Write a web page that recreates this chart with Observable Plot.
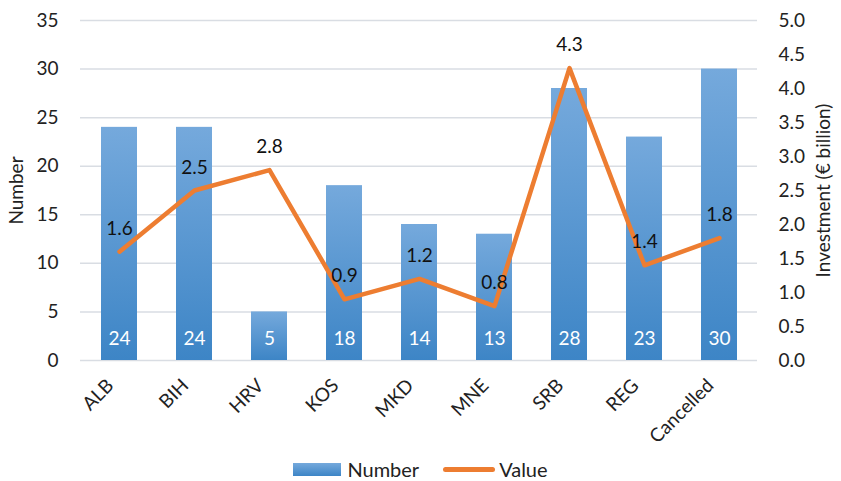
<!DOCTYPE html>
<html>
<head>
<meta charset="utf-8">
<script src="https://cdn.jsdelivr.net/npm/d3@7"></script>
<script src="https://cdn.jsdelivr.net/npm/@observablehq/plot@0.6"></script>
<style>
  body { margin: 0; background: #fff; font-family: Lato, "Noto Sans", sans-serif; }
  #wrap { position: relative; width: 841px; height: 481px; overflow: hidden; }
  #legend { position: absolute; left: 0; top: 457px; width: 841px; height: 24px; line-height: 24px; display: flex; justify-content: center; align-items: center; font-size: 20px; color: #222; }
  .sw-bar { width: 48px; height: 13px; background: linear-gradient(#75a9dc, #3d85c6); margin-right: 6px; }
  .sw-line { width: 52px; height: 5px; border-radius: 3px; background: #ed7d31; margin-left: 24px; margin-right: 4px; }
</style>
</head>
<body>
<div id="wrap">
  <div id="chart"></div>
  <div id="legend">
    <div class="sw-bar"></div><span>Number</span>
    <div class="sw-line"></div><span>Value</span>
  </div>
</div>
<script>
const categories = ["ALB", "BIH", "HRV", "KOS", "MKD", "MNE", "SRB", "REG", "Cancelled"];
const numbers = [24, 24, 5, 18, 14, 13, 28, 23, 30];
const values = [1.6, 2.5, 2.8, 0.9, 1.2, 0.8, 4.3, 1.4, 1.8];
const leftTicks = [0, 5, 10, 15, 20, 25, 30, 35];
const rightTicks = [0.0, 0.5, 1.0, 1.5, 2.0, 2.5, 3.0, 3.5, 4.0, 4.5, 5.0];

const ratio = 35 / 5; // right axis -> left axis units
const data = categories.map((c, i) => ({cat: c, n: numbers[i], v: values[i], vs: values[i] * ratio}));

const plot = Plot.plot({
  width: 841,
  height: 452,
  marginLeft: 80,
  marginRight: 84,
  marginTop: 20,
  marginBottom: 92,
  style: {fontFamily: "Lato, 'Noto Sans', sans-serif", fontSize: "18px", color: "#222", background: "#fff"},
  x: {domain: categories, paddingInner: 0.52, paddingOuter: 0.26},
  y: {domain: [0, 35]},
  marks: [
    Plot.gridY(leftTicks, {stroke: "#d9dde3", strokeOpacity: 1, strokeWidth: 1.5}),
    Plot.barY(data, {x: "cat", y: "n", fill: "url(#barGrad)"}),
    Plot.text(data, {x: "cat", y: 0, text: d => String(d.n), dy: -22, fill: "#fff", fontSize: 19}),
    Plot.line(data, {x: "cat", y: "vs", stroke: "#ed7d31", strokeWidth: 4.5, strokeLinejoin: "round", strokeLinecap: "round"}),
    Plot.text(data, {x: "cat", y: "vs", text: d => d.v.toFixed(1), dy: -23, fill: "#111", fontSize: 19}),
    Plot.axisY(leftTicks, {anchor: "left", tickSize: 0, tickPadding: 22, fontSize: 19, label: "Number", labelAnchor: "center", labelArrow: "none", labelOffset: 71}),
    Plot.axisY(rightTicks.map(v => v * ratio), {anchor: "right", tickSize: 0, tickPadding: 21, fontSize: 19, tickFormat: d => (d / ratio).toFixed(1), label: "Investment (€ billion)", labelAnchor: "center", labelArrow: "none", labelOffset: 72}),
    Plot.axisX({tickRotate: -45, tickSize: 0, tickPadding: 22, dx: -9, fontSize: 19, label: null})
  ]
});

const svg = d3.select(plot);
const defs = svg.insert("defs", ":first-child");
const g = defs.append("linearGradient").attr("id", "barGrad").attr("x1", 0).attr("y1", 0).attr("x2", 0).attr("y2", 1);
g.append("stop").attr("offset", "0%").attr("stop-color", "#75a9dc");
g.append("stop").attr("offset", "100%").attr("stop-color", "#3d85c6");

document.getElementById("chart").appendChild(plot);
</script>
</body>
</html>
